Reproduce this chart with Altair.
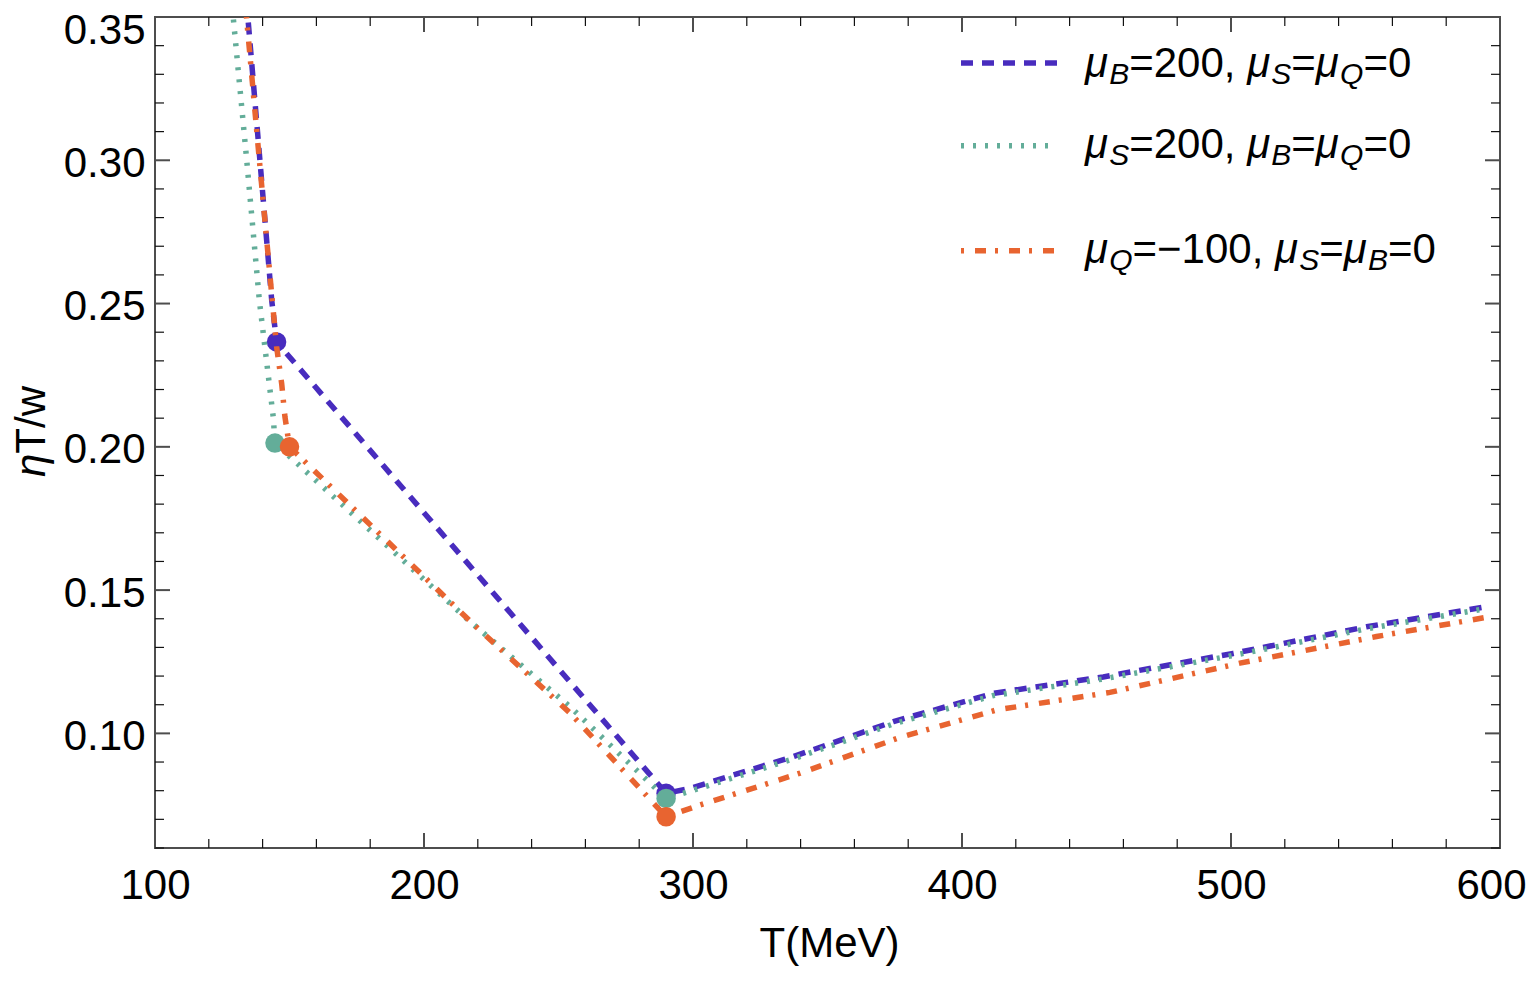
import altair as alt
import pandas as pd

# ---------------- data ----------------
blue_T = [132.7, 134.6, 139.0, 143.4, 145.2, 290.0, 298.9, 337.3, 374.5, 411.7, 452.5, 500.8, 550.4, 595.0]
blue_v = [0.370, 0.349, 0.300, 0.251, 0.2366, 0.0791, 0.0808, 0.0919, 0.1041, 0.1140, 0.1197, 0.1279, 0.1372, 0.1442]

green_T = [127.1, 129.1, 134.1, 138.8, 144.0, 144.6, 217.1, 254.3, 290.0, 298.9, 337.3, 374.5, 411.7, 452.5, 500.8, 550.4, 595.0]
green_v = [0.370, 0.3497, 0.300, 0.251, 0.210, 0.2013, 0.1390, 0.1093, 0.0773, 0.0798, 0.0911, 0.1033, 0.1132, 0.1190, 0.1272, 0.1365, 0.1436]

orange_T = [132.3, 134.1, 138.8, 143.6, 145.2, 147.1, 148.3, 150.0, 217.1, 254.3, 290.0, 302.6, 339.8, 377.0, 412.9, 455.0, 503.3, 554.1, 595.0]
orange_v = [0.370, 0.349, 0.300, 0.251, 0.235, 0.222, 0.2105, 0.2000, 0.1392, 0.1071, 0.0709, 0.0750, 0.0861, 0.0986, 0.1082, 0.1143, 0.1245, 0.1338, 0.1405]

blue_dot_T = [145.2, 290.0]
blue_dot_v = [0.2366, 0.0791]
green_dot_T = [144.6, 290.0]
green_dot_v = [0.2013, 0.0773]
orange_dot_T = [150.0, 290.0]
orange_dot_v = [0.2000, 0.0709]

x_major = [100, 200, 300, 400, 500, 600]
x_minor = [120, 140, 160, 180, 220, 240, 260, 280, 320, 340, 360, 380,
           420, 440, 460, 480, 520, 540, 560, 580]
y_major = [0.10, 0.15, 0.20, 0.25, 0.30, 0.35]
y_minor = [0.06, 0.07, 0.08, 0.09, 0.11, 0.12, 0.13, 0.14, 0.16, 0.17, 0.18, 0.19,
           0.21, 0.22, 0.23, 0.24, 0.26, 0.27, 0.28, 0.29, 0.31, 0.32, 0.33, 0.34]

x_title = "T(MeV)"
y_title = [("η", "i"), ("T/w", "n")]

legend_labels = [
    [("μ", "i"), ("B", "s"), ("=200, ", "n"), ("μ", "i"), ("S", "s"), ("=", "n"), ("μ", "i"), ("Q", "s"), ("=0", "n")],
    [("μ", "i"), ("S", "s"), ("=200, ", "n"), ("μ", "i"), ("B", "s"), ("=", "n"), ("μ", "i"), ("Q", "s"), ("=0", "n")],
    [("μ", "i"), ("Q", "s"), ("=−100, ", "n"), ("μ", "i"), ("S", "s"), ("=", "n"), ("μ", "i"), ("B", "s"), ("=0", "n")],
]

# ---------------- styling ----------------
BLUE, GREEN, ORANGE = "#482CBE", "#63AD99", "#E86430"
DASHES = [[12, 9], [3, 9], [3, 11, 11, 9]]
WIDTHS = [5.5, 5.5, 5.5]
COLORS = [BLUE, GREEN, ORANGE]
FONT = "Liberation Sans"
FS, SUB = 42, 30
W, H = 1345, 831

xscale = alt.Scale(domain=[100, 600], nice=False, zero=False)
yscale = alt.Scale(domain=[0.06, 0.35], nice=False, zero=False)

xaxis = alt.Axis(values=x_major, format="d", ticks=False, domain=False, grid=False,
                 labelFontSize=FS, labelFont=FONT, labelColor="black", labelPadding=17,
                 labelFlush=False, title=None,
                 labelOffset=alt.condition("datum.value > 590", alt.value(-9), alt.value(0)))
yaxis = alt.Axis(values=y_major, format=".2f", ticks=False, domain=False, grid=False,
                 labelFontSize=FS, labelFont=FONT, labelColor="black", labelPadding=10,
                 labelBaseline="middle", labelFlush=False, title=None,
                 labelOffset=alt.condition("datum.value > 0.345", alt.value(13), alt.value(3)))

X = lambda f: alt.X(f, scale=xscale, axis=xaxis)
Y = lambda f: alt.Y(f, scale=yscale, axis=yaxis)

layers = []

series = [(blue_T, blue_v, blue_dot_T, blue_dot_v),
          (green_T, green_v, green_dot_T, green_dot_v),
          (orange_T, orange_v, orange_dot_T, orange_dot_v)]

for i, (T, v, dT, dv) in enumerate(series):
    df = pd.DataFrame({"T": T, "v": v})
    line = alt.Chart(df).mark_line(clip=True, color=COLORS[i], strokeWidth=WIDTHS[i],
                                   strokeDash=DASHES[i]).encode(x=X("T:Q"), y=Y("v:Q"))
    dots = alt.Chart(pd.DataFrame({"T": dT, "v": dv})).mark_circle(
        size=380, opacity=1, color=COLORS[i]).encode(x=X("T:Q"), y=Y("v:Q"))
    layers += [line, dots]

# ---------------- frame ticks (inward, mirrored) ----------------
def xticks(vals, length, width, color):
    df = pd.DataFrame({"T": vals})
    base = alt.Chart(df).mark_rule(strokeWidth=width, color=color)
    b = base.encode(x=X("T:Q"), y=alt.value(H), y2=alt.value(H - length))
    t = base.encode(x=X("T:Q"), y=alt.value(0), y2=alt.value(length))
    return [b, t]

def yticks(vals, length, width, color):
    df = pd.DataFrame({"v": vals})
    base = alt.Chart(df).mark_rule(strokeWidth=width, color=color)
    l = base.encode(y=Y("v:Q"), x=alt.value(0), x2=alt.value(length))
    r = base.encode(y=Y("v:Q"), x=alt.value(W), x2=alt.value(W - length))
    return [l, r]

layers += xticks(x_major, 15, 2, "#4d4d4d") + xticks(x_minor, 9, 1.2, "#111")
layers += yticks(y_major, 15, 2, "#4d4d4d") + yticks(y_minor, 9, 1.2, "#111")

# ---------------- manual legend ----------------
CHAR_W = {"μ": 0.576, "B": 0.667, "S": 0.667, "Q": 0.778, "=": 0.584, "−": 0.584,
          ",": 0.278, " ": 0.278, "/": 0.278, "T": 0.611, "w": 0.722, "η": 0.556}
for d in "0123456789":
    CHAR_W[d] = 0.556

def text_width(s, fs):
    return sum(CHAR_W.get(c, 0.556) for c in s) * fs

row_line_y = [46, 128.7, 233.7]
row_base_y = [59.7, 141.3, 246.3]
LINE_X0, LINE_X1, TEXT_X0 = 806, 902, 930

pieces = {"n": [], "i": [], "s": []}
for r, segs in enumerate(legend_labels):
    xpos = TEXT_X0
    for txt, kind in segs:
        fs = SUB if kind == "s" else FS
        yb = row_base_y[r] + (7 if kind == "s" else 0)
        pieces[kind].append({"px": xpos, "py": yb, "t": txt})
        xpos += text_width(txt, fs)

for r in range(3):
    samp = alt.Chart(pd.DataFrame({"a": [0]})).mark_rule(
        color=COLORS[r], strokeWidth=WIDTHS[r], strokeDash=DASHES[r]).encode(
        x=alt.value(LINE_X0), x2=alt.value(LINE_X1), y=alt.value(row_line_y[r]))
    layers.append(samp)

def text_layer(rows, fs, style, align="left", angle=0):
    kw = dict(font=FONT, fontSize=fs, align=align, baseline="alphabetic", color="black")
    if style == "italic":
        kw["fontStyle"] = "italic"
    if angle:
        kw["angle"] = angle
    return alt.Chart(pd.DataFrame(rows)).mark_text(**kw).encode(
        x=alt.X("px:Q", scale=None, axis=None),
        y=alt.Y("py:Q", scale=None, axis=None),
        text="t:N",
    )

layers.append(text_layer(pieces["n"], FS, "normal"))
layers.append(text_layer(pieces["i"], FS, "italic"))
layers.append(text_layer(pieces["s"], SUB, "italic"))

# axis titles
layers.append(text_layer([{"px": 674.5, "py": 940, "t": x_title}], FS, "normal", align="center"))
ypos = 460
yt_rows = {"i": [], "n": []}
for txt, kind in y_title:
    yt_rows[kind].append({"px": -110, "py": ypos, "t": txt})
    ypos -= text_width(txt, FS)
layers.append(text_layer(yt_rows["i"], FS, "italic", angle=270))
layers.append(text_layer(yt_rows["n"], FS, "normal", angle=270))

chart = alt.layer(*layers).properties(
    width=W, height=H,
    autosize=alt.AutoSizeParams(type="none"),
    padding={"left": 147, "top": 9, "right": 26, "bottom": 124},
    background="white",
).configure_view(stroke="#4d4d4d", strokeWidth=2)

chart.save("out.html", embed_options={"renderer": "svg", "actions": False})
